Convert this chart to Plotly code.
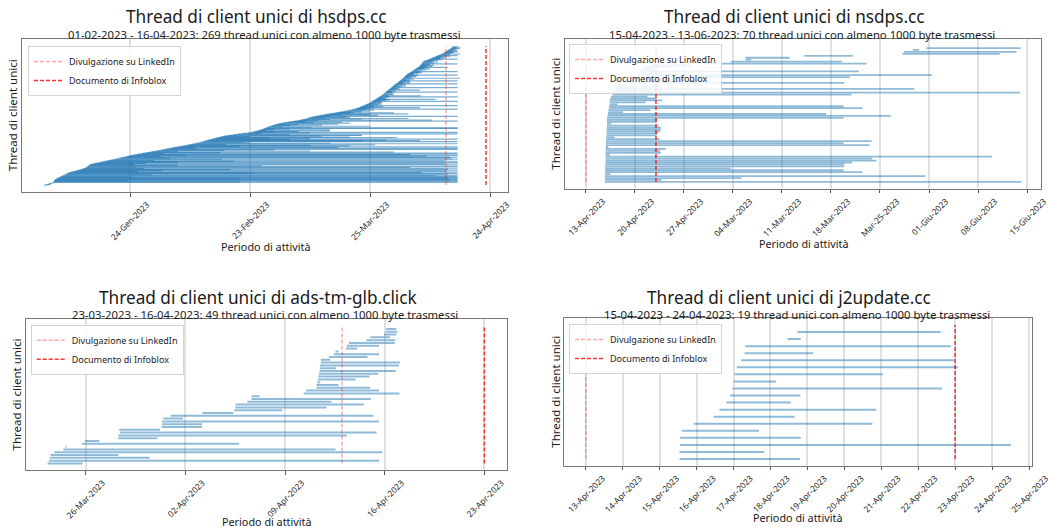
import pandas as pd
import plotly.graph_objects as go

W, H = 1048, 527
FONT = "Noto Sans"

# ---------------- DATA ----------------
# Event dates
LINKEDIN_DATE = "2023-04-13"
INFOBLOX_DATE = "2023-04-23"

# hsdps.cc: thread start/end, in days from 2023-01-24
HSDPS_BASE = "2023-01-24"
hsdps_start = [
    -21.5, -21.0, -20.6, -20.2, -19.8, -19.2, -19.1, -19.0, -19.0, -18.9,
    -18.8, -18.6, -18.4, -18.2, -17.9, -17.6, -17.4, -17.2, -16.9, -16.6,
    -16.3, -16.0, -15.8, -15.5, -15.2, -14.8, -14.3, -13.8, -13.3, -12.9,
    -12.4, -12.0, -11.6, -11.3, -11.0, -10.8, -10.6, -10.4, -10.3, -10.1,
    -9.8, -9.4, -8.8, -8.2, -7.5, -7.0, -6.4, -5.8, -5.2, -4.6,
    -4.0, -3.4, -2.8, -2.2, -1.6, -1.0, -0.5, 0.0, 0.6, 1.3,
    2.0, 2.7, 3.3, 4.0, 4.8, 5.5, 6.3, 7.0, 7.8, 8.5,
    9.2, 9.8, 10.5, 11.2, 11.8, 12.5, 13.3, 14.0, 14.6, 15.2,
    15.8, 16.5, 17.1, 17.6, 18.1, 18.6, 19.1, 19.5, 20.0, 20.5,
    20.9, 21.4, 21.9, 22.4, 22.9, 23.5, 24.2, 25.0, 26.0, 27.0,
    28.2, 29.5, 30.3, 30.8, 31.3, 31.8, 32.3, 32.7, 33.1, 33.4,
    33.7, 34.0, 34.3, 34.6, 35.0, 35.4, 35.8, 36.3, 36.8, 37.3,
    37.9, 38.6, 39.4, 40.2, 41.0, 41.8, 42.5, 43.1, 43.7, 44.2,
    44.6, 45.0, 45.6, 46.2, 46.9, 47.6, 48.3, 49.0, 49.7, 50.5,
    51.3, 52.0, 52.7, 53.4, 54.1, 54.8, 55.4, 56.0, 56.5, 56.9,
    57.2, 57.5, 57.8, 58.1, 58.4, 58.7, 59.0, 59.3, 59.6, 59.9,
    60.1, 60.3, 60.5, 60.8, 61.0, 61.2, 61.4, 61.6, 61.8, 62.0,
    62.2, 62.4, 62.6, 62.8, 63.0, 63.2, 63.3, 63.5, 63.7, 63.8,
    64.0, 64.1, 64.3, 64.4, 64.6, 64.7, 64.9, 65.0, 65.2, 65.3,
    65.5, 65.6, 65.8, 66.0, 66.1, 66.3, 66.5, 66.7, 66.9, 67.0,
    67.2, 67.3, 67.5, 67.6, 67.8, 67.9, 68.1, 68.2, 68.4, 68.5,
    68.7, 68.8, 69.0, 69.1, 69.2, 69.4, 69.6, 69.8, 70.0, 70.2,
    70.4, 70.6, 70.8, 71.0, 71.2, 71.4, 71.6, 71.8, 72.0, 72.2,
    72.4, 72.5, 72.6, 72.7, 72.8, 72.9, 73.0, 73.1, 73.2, 73.3,
    73.5, 74.0, 74.3, 74.6, 74.9, 75.2, 75.5, 75.8, 76.1, 76.4,
    76.7, 77.0, 77.3, 77.6, 77.9, 78.2, 78.5, 78.7, 78.9, 79.1,
    79.3, 79.5, 79.7, 79.9, 80.1, 80.3, 80.4, 80.5, 80.6,
]
hsdps_end = [
    -20.8, -20.0, -19.8, -19.6, -19.0, 81.9, 27.5, 81.9, -0.4, 81.9,
    80.0, 81.9, 27.5, 81.9, 79.5, 81.9, 0.5, 81.9, 76.5, 81.9,
    5.5, 79.5, 81.9, 31.0, 73.0, 81.9, 2.0, 79.0, 8.0, 81.9,
    25.0, 79.5, 3.5, 81.9, 70.0, 1.75, 81.9, 33.0, 12.0, 81.9,
    1.0, 78.75, 4.0, 81.9, 12.0, 81.9, 26.0, 78.75, 6.0, 81.9,
    23.0, 80.5, 10.0, 81.9, 80.0, 7.6, 74.0, 81.9, 14.0, 70.0,
    81.9, 8.5, 81.9, 22.5, 66.0, 12.0, 45.0, 23.4, 36.0, 81.9,
    17.0, 81.9, 16.0, 52.0, 81.9, 27.5, 55.0, 45.0, 61.25, 24.0,
    81.9, 50.0, 30.0, 28.4, 81.9, 58.0, 72.5, 64.0, 40.0, 81.9,
    45.0, 35.0, 66.7, 55.0, 30.0, 48.0, 57.9, 58.0, 40.0, 81.9,
    33.0, 45.0, 81.9, 36.0, 42.0, 50.0, 34.0, 50.0, 36.0, 40.0,
    81.9, 81.9, 45.4, 38.0, 60.0, 40.0, 48.0, 42.0, 52.0, 39.0,
    55.0, 46.0, 52.9, 44.0, 81.9, 47.0, 75.4, 50.0, 58.0, 69.6,
    49.0, 55.0, 54.0, 81.9, 50.0, 62.0, 53.0, 60.0, 69.6, 55.0,
    66.0, 56.0, 57.9, 60.0, 58.0, 61.0, 59.0, 81.9, 60.0, 61.0,
    72.5, 59.5, 63.3, 61.0, 81.9, 60.5, 62.0, 63.0, 62.5, 61.5,
    63.0, 63.0, 81.9, 62.5, 64.0, 65.0, 76.4, 63.5, 64.0, 64.5,
    63.0, 81.9, 65.0, 72.7, 64.5, 66.0, 65.5, 64.0, 66.0, 65.5,
    81.9, 65.5, 66.5, 65.0, 72.5, 66.0, 67.5, 67.0, 66.5, 81.9,
    67.5, 68.0, 69.0, 67.0, 69.0, 68.0, 81.9, 68.5, 70.0, 68.0,
    70.0, 69.0, 81.9, 70.0, 69.0, 71.0, 70.0, 82.5, 70.5, 69.5,
    71.5, 70.0, 72.0, 81.9, 71.0, 70.5, 72.0, 71.0, 73.0, 72.5,
    81.9, 73.0, 72.0, 74.0, 73.0, 75.0, 73.5, 74.5, 79.4, 74.0,
    75.5, 74.0, 76.0, 74.5, 75.0, 81.9, 76.0, 75.0, 77.0, 75.5,
    76.0, 77.0, 76.0, 78.0, 81.9, 77.5, 78.5, 77.5, 79.0, 78.0,
    80.0, 81.9, 79.0, 80.0, 82.5, 80.0, 81.0, 80.5, 81.9, 81.0,
    81.9, 80.5, 81.5, 81.0, 81.9, 82.5, 81.5, 82.5, 82.0,
]
hsdps_ticks = ["24-Gen-2023", "23-Feb-2023", "25-Mar-2023", "24-Apr-2023"]
hsdps_tick_days = [0, 30, 60, 90]

# nsdps.cc: days from 2023-04-13
NSDPS_BASE = "2023-04-13"
nsdps_start = [
    2.7, 2.7, 2.7, 2.7, 2.7, 2.75, 2.75, 2.75, 2.75, 2.75,
    2.8, 2.8, 2.8, 2.8, 2.8, 2.8, 2.8, 2.8, 2.85, 2.85,
    2.85, 2.85, 2.9, 2.9, 2.95, 2.95, 2.95, 2.95, 2.95, 3.0,
    3.0, 3.0, 3.0, 3.0, 3.1, 3.1, 3.2, 3.2, 3.3, 3.3,
    3.4, 3.4, 3.4, 3.5, 3.6, 3.8, 3.8, 3.9, 4.2, 4.5,
    4.5, 5.5, 5.6, 6.6, 7.2, 7.4, 7.6, 7.8, 8.0, 8.5,
    9.2, 16.9, 20.7, 22.8, 22.8, 31.2, 45.2, 45.4, 46.7, 48.6,
]
nsdps_end = [
    62.2, 10.8, 22.2, 48.5, 3.5, 39.5, 36.8, 20.7, 36.9, 36.9,
    38.0, 41.5, 40.9, 58.0, 3.4, 10.7, 10.6, 11.4, 3.2, 40.5,
    36.8, 40.8, 10.5, 4.1, 10.1, 10.3, 10.6, 10.7, 10.7, 10.4,
    3.6, 10.1, 10.2, 36.8, 43.6, 34.3, 5.3, 9.2, 39.5, 36.8,
    4.5, 8.5, 10.9, 10.1, 8.8, 37.9, 62.0, 10.9, 46.9, 10.9,
    5.5, 36.9, 17.1, 14.0, 37.7, 49.4, 10.5, 39.0, 9.8, 12.0,
    15.0, 40.1, 36.6, 23.6, 29.1, 38.1, 59.1, 61.5, 47.6, 62.1,
]
nsdps_ticks = ["13-Apr-2023", "20-Apr-2023", "27-Apr-2023", "04-Mar-2023",
               "11-Mar-2023", "18-Mar-2023", "Mar-25-2023", "01-Giu-2023",
               "08-Giu-2023", "15-Giu-2023"]
nsdps_tick_days = [0, 7, 14, 21, 28, 35, 42, 49, 56, 63]

# ads-tm-glb.click: days from 2023-03-26
ADS_BASE = "2023-03-26"
ads_start = [
    -2.67, -2.58, -2.51, -2.46, -2.20, -1.57, -1.43, -0.26, -0.05, 2.29,
    2.29, 2.41, 2.36, 5.34, 5.36, 5.36, 5.45, 5.97, 8.21, 10.44,
    10.51, 10.53, 11.35, 11.65, 11.65, 15.31, 15.49, 16.20, 16.22, 16.27,
    16.31, 16.34, 16.38, 16.43, 16.45, 16.45, 16.52, 16.52, 17.08, 17.43,
    17.55, 18.28, 18.35, 18.49, 19.71, 19.99, 20.95, 21.06, 21.11,
]
ads_end = [
    -0.21, 20.60, 4.49, 2.30, 20.83, 17.55, -1.34, 10.77, 0.96, 5.03,
    18.35, 20.43, 5.22, 8.17, 8.17, 20.60, 6.83, 20.20, 10.37, 13.81,
    16.92, 19.54, 17.25, 20.03, 12.22, 22.03, 20.60, 19.99, 17.76, 16.48,
    18.96, 19.94, 20.55, 21.77, 17.58, 22.00, 22.07, 17.18, 19.80, 20.60,
    17.76, 19.07, 20.60, 21.70, 21.72, 21.37, 21.81, 21.91, 21.81,
]
ads_ticks = ["26-Mar-2023", "02-Apr-2023", "09-Apr-2023", "16-Apr-2023", "23-Apr-2023"]
ads_tick_days = [0, 7, 14, 21, 28]

# j2update.cc: days from 2023-04-13
J2_BASE = "2023-04-13"
j2_start = [2.54, 2.54, 2.55, 2.55, 2.60, 2.92, 3.46, 3.62, 3.81, 3.91,
            3.97, 4.00, 4.03, 4.09, 4.21, 4.30, 4.32, 5.46, 5.73]
j2_end = [5.80, 4.83, 11.51, 5.82, 4.69, 7.76, 5.65, 7.86, 5.55, 5.81,
          9.64, 5.15, 8.04, 10.08, 9.97, 6.16, 9.88, 5.82, 9.61]
j2_ticks = ["13-Apr-2023", "14-Apr-2023", "15-Apr-2023", "16-Apr-2023",
            "17-Apr-2023", "18-Apr-2023", "19-Apr-2023", "20-Apr-2023",
            "21-Apr-2023", "22-Apr-2023", "23-Apr-2023", "24-Apr-2023",
            "25-Apr-2023"]
j2_tick_days = list(range(13))

titles = ["Thread di client unici di hsdps.cc", "Thread di client unici di nsdps.cc",
          "Thread di client unici di ads-tm-glb.click", "Thread di client unici di j2update.cc"]
subtitles = ["01-02-2023 - 16-04-2023: 269 thread unici con almeno 1000 byte trasmessi",
             "15-04-2023 - 13-06-2023: 70 thread unici con almeno 1000 byte trasmessi",
             "23-03-2023 - 16-04-2023: 49 thread unici con almeno 1000 byte trasmessi",
             "15-04-2023 - 24-04-2023: 19 thread unici con almeno 1000 byte trasmessi"]

# ---------------- LAYOUT (pixel boxes) ----------------
def px(x):
    return x / W

def py(y):
    return 1 - y / H

panels = [
    dict(base=HSDPS_BASE, s=hsdps_start, e=hsdps_end, ticks=hsdps_ticks, tdays=hsdps_tick_days,
         box=(22, 39.3, 508, 192), xr=(-27.0, 94.5), title=(256, 16.5), sub=(264, 34.3),
         ytit=12.5, xtit=(265, 246), leg=(28, 46), lw=1.2, alpha=0.6),
    dict(base=NSDPS_BASE, s=nsdps_start, e=nsdps_end, ticks=nsdps_ticks, tdays=nsdps_tick_days,
         box=(564.7, 39.3, 1041, 188.7), xr=(-3.04, 65.0), title=(794, 16.5), sub=(802, 34.3),
         ytit=554.7, xtit=(803, 243), leg=(569, 44), lw=1.8, alpha=0.5),
    dict(base=ADS_BASE, s=ads_start, e=ads_end, ticks=ads_ticks, tdays=ads_tick_days,
         box=(25.7, 319.3, 507, 470.3), xr=(-4.21, 29.59), title=(258, 297), sub=(265, 314),
         ytit=16.7, xtit=(266, 521.5), leg=(30.7, 324.7), lw=2, alpha=0.5),
    dict(base=J2_BASE, s=j2_start, e=j2_end, ticks=j2_ticks, tdays=j2_tick_days,
         box=(564.3, 318.3, 1032, 465.7), xr=(-0.58, 12.08), title=(789, 297.3), sub=(797, 314),
         ytit=554.7, xtit=(797.5, 517.5), leg=(569, 324), lw=2, alpha=0.5),
]

def d(base, days):
    return pd.Timestamp(base) + pd.to_timedelta(days, unit="D")

fig = go.Figure()
annotations = []
layout_axes = {}

for i, p in enumerate(panels):
    n = i + 1
    xa = "x" if n == 1 else f"x{n}"
    ya = "y" if n == 1 else f"y{n}"
    legname = "legend" if n == 1 else f"legend{n}"
    N = len(p["s"])
    base = p["base"]
    for k, (s, e) in enumerate(zip(p["s"], p["e"])):
        fig.add_trace(go.Scatter(
            x=[d(base, s), d(base, e)], y=[k, k], mode="lines",
            line=dict(color=f"rgba(31,119,180,{p['alpha']})", width=p["lw"]),
            showlegend=False, hoverinfo="skip", xaxis=xa, yaxis=ya))
    fig.add_trace(go.Scatter(
        x=[pd.Timestamp(LINKEDIN_DATE)] * 2, y=[0, N], mode="lines",
        line=dict(color="rgba(255,0,0,0.35)", width=1.5, dash="4px,2px"),
        name="Divulgazione su LinkedIn", legend=legname, xaxis=xa, yaxis=ya, hoverinfo="skip"))
    fig.add_trace(go.Scatter(
        x=[pd.Timestamp(INFOBLOX_DATE)] * 2, y=[0, N], mode="lines",
        line=dict(color="rgba(255,0,0,0.8)", width=1.5, dash="4px,2px"),
        name="Documento di Infoblox", legend=legname, xaxis=xa, yaxis=ya, hoverinfo="skip"))

    x0, y0, x1, y1 = p["box"]
    layout_axes[("xaxis" if n == 1 else f"xaxis{n}")] = dict(
        type="date", domain=[px(x0), px(x1)], anchor=ya,
        range=[d(base, p["xr"][0]), d(base, p["xr"][1])],
        tickmode="array", tickvals=[d(base, t) for t in p["tdays"]], ticktext=p["ticks"],
        tickangle=-45, ticklabelshift=17, ticklabelstandoff=0,
        ticklabeloverflow="allow",
        tickfont=dict(family=FONT, size=8.4, color="#262626"),
        ticks="outside", ticklen=3.5, tickcolor="#555", tickwidth=1,
        showgrid=True, gridcolor="rgba(0,0,0,0.12)", gridwidth=1.5,
        showline=True, linecolor="#777777", linewidth=1, mirror=True,
        zeroline=False, automargin=False, fixedrange=True)
    layout_axes[("yaxis" if n == 1 else f"yaxis{n}")] = dict(
        domain=[py(y1), py(y0)], anchor=xa, range=[-0.05 * N, 1.05 * N],
        showticklabels=False, ticks="", showgrid=False, zeroline=False,
        showline=True, linecolor="#777777", linewidth=1, mirror=True,
        automargin=False, fixedrange=True)
    layout_axes[legname] = dict(
        x=px(p["leg"][0]), y=py(p["leg"][1]), xanchor="left", yanchor="top",
        bgcolor="rgba(255,255,255,0.85)", bordercolor="#d4d4d4", borderwidth=1,
        font=dict(family=FONT, size=9, color="#222"), itemwidth=30,
        tracegroupgap=0)

    annotations.append(dict(text=titles[i], x=px(p["title"][0]), y=py(p["title"][1]),
                            xref="paper", yref="paper", showarrow=False,
                            xanchor="center", yanchor="middle",
                            font=dict(family=FONT, size=17.2, color="#1a1a1a")))
    annotations.append(dict(text=subtitles[i], x=px(p["sub"][0]), y=py(p["sub"][1]),
                            xref="paper", yref="paper", showarrow=False,
                            xanchor="center", yanchor="middle",
                            font=dict(family=FONT, size=11.3, color="#1a1a1a")))
    annotations.append(dict(text="Thread di client unici", x=px(p["ytit"]),
                            y=py((y0 + y1) / 2), xref="paper", yref="paper",
                            showarrow=False, textangle=-90, xanchor="center", yanchor="middle",
                            font=dict(family=FONT, size=11.5, color="#1a1a1a")))
    annotations.append(dict(text="Periodo di attività", x=px(p["xtit"][0]), y=py(p["xtit"][1]),
                            xref="paper", yref="paper", showarrow=False,
                            xanchor="center", yanchor="middle",
                            font=dict(family=FONT, size=10.8, color="#1a1a1a")))

fig.update_layout(
    width=W, height=H, margin=dict(l=0, r=0, t=0, b=0),
    paper_bgcolor="white", plot_bgcolor="white",
    annotations=annotations, **layout_axes)

fig.write_html("out.html")
